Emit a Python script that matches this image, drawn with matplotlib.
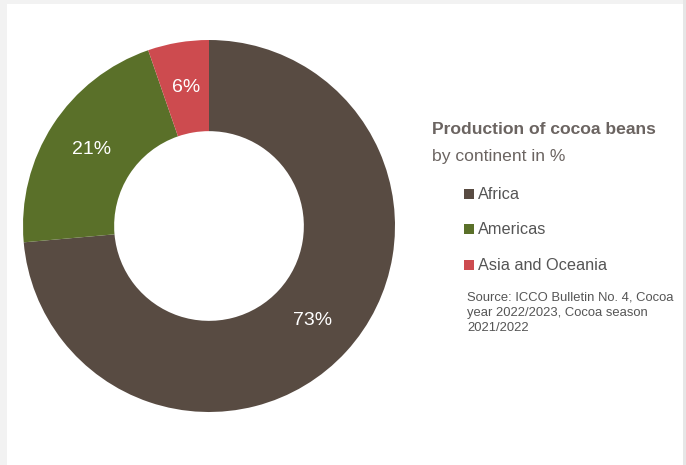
import matplotlib
matplotlib.use("Agg")
import matplotlib.pyplot as plt
from matplotlib.patches import Rectangle

# data (shares as measured from the ring, labels as printed)
continents = ["Africa", "Americas", "Asia and Oceania"]
shares = [73.6, 21.1, 5.3]
pct_labels = ["73%", "21%", "6%"]
colors = ["#584b42", "#5a7029", "#cd4b4f"]

W, H = 686, 465
plt.rcParams['font.family'] = ['Liberation Sans', 'DejaVu Sans']

fig = plt.figure(figsize=(W/100, H/100), dpi=100)
fig.patch.set_facecolor("#f2f2f2")
# white card
fig.patches.append(Rectangle((7/W, 0), (683-7)/W, (H-4)/H, transform=fig.transFigure,
                             facecolor="white", edgecolor="none", zorder=-10))
fig.patches.append(Rectangle((683/W, 0), 3/W, 1, transform=fig.transFigure,
                             facecolor="#e6e6e6", edgecolor="none", zorder=-10))

# donut, centre (209,226) px, outer radius 186 px
cx, cy, r = 209, 226, 186
ax = fig.add_axes([(cx-r)/W, (H-cy-r)/H, 2*r/W, 2*r/H])
ax.patch.set_alpha(0)
wedges, texts = ax.pie(shares, colors=colors, startangle=90, counterclock=False,
                       radius=1, labels=pct_labels, labeldistance=0.755,
                       wedgeprops=dict(width=0.49, edgecolor="none"),
                       textprops=dict(color="white", fontsize=14))
for t in texts:
    t.set_ha('center')
    t.set_va('center')
ax.set_xlim(-1, 1)
ax.set_ylim(-1, 1)
ax.set_aspect('equal')
ax.axis('off')

def fx(x):
    return x / W

def fy(y):
    return 1 - y / H

fig.text(fx(432), fy(130), "Production of cocoa beans", fontsize=12.6, fontweight='bold',
         color="#6b6461", va='center', ha='left')
fig.text(fx(432), fy(156), "by continent in %", fontsize=12.6,
         color="#6b6461", va='center', ha='left')

ys = [194, 229, 265]
for name, c, y in zip(continents, colors, ys):
    fig.patches.append(Rectangle((fx(464), fy(y+5)), 10/W, 10/H, transform=fig.transFigure,
                                 facecolor=c, edgecolor="none"))
    fig.text(fx(478), fy(y), name, fontsize=11.7, color="#555555", va='center', ha='left')

fig.text(fx(467), fy(291), "Source: ICCO Bulletin No. 4, Cocoa\nyear 2022/2023, Cocoa season\n2021/2022",
         fontsize=9.4, color="#555555", va='top', ha='left', linespacing=1.4)

fig.savefig("out.png", dpi=100, facecolor=fig.get_facecolor())
